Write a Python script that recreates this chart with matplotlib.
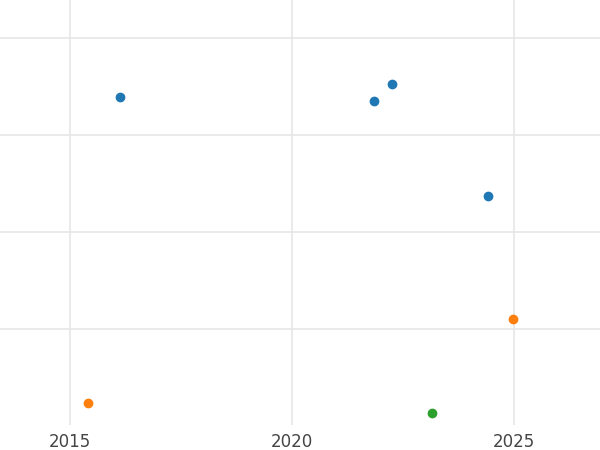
import matplotlib
matplotlib.use("Agg")
import matplotlib.pyplot as plt

blue_x = [2016.13, 2021.85, 2022.25, 2024.41]
blue_y = [3.39, 3.35, 3.52, 2.37]
orange_x = [2015.41, 2024.98]
orange_y = [0.23, 1.10]
green_x = [2023.15]
green_y = [0.13]
x_ticks = [2015, 2020, 2025]
y_ticks = [1, 2, 3, 4]

fig = plt.figure(figsize=(6, 4.5), dpi=100)
ax = fig.add_axes([0, 0.056, 1, 0.944])
ax.scatter(blue_x, blue_y, color="#1f77b4", s=36, zorder=3)
ax.scatter(orange_x, orange_y, color="#ff7f0e", s=36, zorder=3)
ax.scatter(green_x, green_y, color="#2ca02c", s=36, zorder=3)
ax.set_xlim(2013.42, 2026.94)
ax.set_ylim(0.01, 4.39)
ax.set_xticks(x_ticks)
ax.set_yticks(y_ticks)
ax.set_yticklabels([])
ax.grid(True, color="#e6e6e6", linewidth=1.2)
ax.set_axisbelow(True)
for s in ax.spines.values():
    s.set_visible(False)
ax.tick_params(length=0, labelsize=12, labelcolor="#444444", pad=6)
fig.savefig("out.png", dpi=100)
